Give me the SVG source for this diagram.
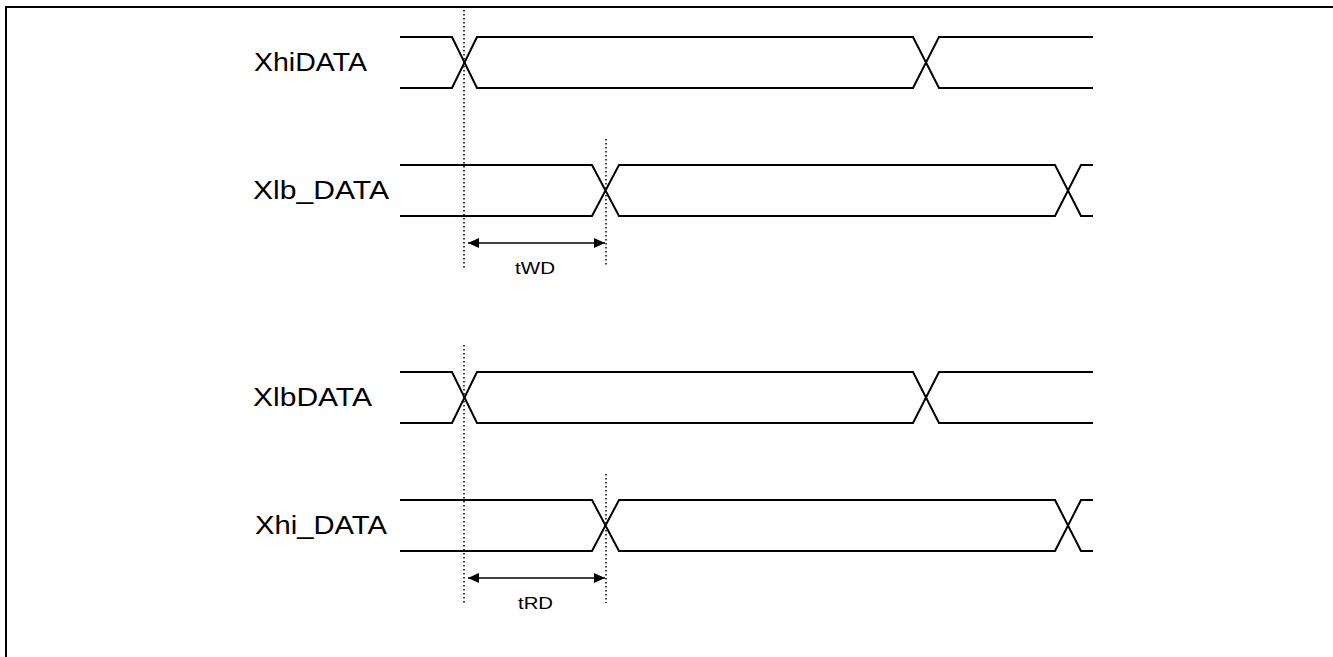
<svg xmlns="http://www.w3.org/2000/svg" width="1333" height="657" viewBox="0 0 1333 657">
<style>
.sig{fill:none;stroke:#000;stroke-width:2;stroke-linejoin:miter}
.dot{fill:none;stroke:#000;stroke-width:1.5;stroke-dasharray:1.5 2.5}
.dim{fill:none;stroke:#000;stroke-width:1.5}
.lbl{font-family:"Liberation Sans",Arial,sans-serif;font-size:26px;fill:#000}
.tl{font-family:"Liberation Sans",Arial,sans-serif;font-size:17px;fill:#000}
</style>
<defs>
<marker id="ah" viewBox="0 0 11 10" refX="11" refY="5" markerWidth="11" markerHeight="10" markerUnits="userSpaceOnUse" orient="auto-start-reverse">
<path d="M0,0 L11,5 L0,10 Z" fill="#000"/>
</marker>
</defs>
<rect width="1333" height="657" fill="#fff"/>
<path d="M6,657 V7 H1333" fill="none" stroke="#000" stroke-width="2"/>
<g id="XhiDATA">
<text class="lbl" x="254" y="71" textLength="113" lengthAdjust="spacingAndGlyphs">XhiDATA</text>
<path class="sig" d="M400,37 H452 L477,88 H913 L939,37 H1093"/>
<path class="sig" d="M400,88 H452 L477,37 H913 L939,88 H1093"/>
</g>
<g id="Xlb_DATA">
<text class="lbl" x="253" y="199" textLength="136" lengthAdjust="spacingAndGlyphs">Xlb_DATA</text>
<path class="sig" d="M400,165 H592 L619,216 H1055 L1081,165 H1093"/>
<path class="sig" d="M400,216 H592 L619,165 H1055 L1081,216 H1093"/>
</g>
<g id="XlbDATA">
<text class="lbl" x="253" y="406" textLength="119" lengthAdjust="spacingAndGlyphs">XlbDATA</text>
<path class="sig" d="M400,372 H452 L477,423 H913 L939,372 H1093"/>
<path class="sig" d="M400,423 H452 L477,372 H913 L939,423 H1093"/>
</g>
<g id="Xhi_DATA">
<text class="lbl" x="255" y="534" textLength="132" lengthAdjust="spacingAndGlyphs">Xhi_DATA</text>
<path class="sig" d="M400,500 H592 L619,551 H1055 L1081,500 H1093"/>
<path class="sig" d="M400,551 H592 L619,500 H1055 L1081,551 H1093"/>
</g>
<g id="tWD">
<text class="tl" x="515" y="274" textLength="40" lengthAdjust="spacingAndGlyphs">tWD</text>
</g>
<g id="tRD">
<text class="tl" x="518" y="609" textLength="35" lengthAdjust="spacingAndGlyphs">tRD</text>
</g>
<g id="connectors">
<line class="dot" x1="464" y1="10" x2="464" y2="268"/>
<line class="dot" x1="606" y1="139" x2="606" y2="265"/>
<line class="dot" x1="464" y1="345" x2="464" y2="605"/>
<line class="dot" x1="606" y1="474" x2="606" y2="603"/>
<line class="dim" x1="468" y1="243" x2="605" y2="243" marker-start="url(#ah)" marker-end="url(#ah)"/>
<line class="dim" x1="468" y1="578" x2="605" y2="578" marker-start="url(#ah)" marker-end="url(#ah)"/>
</g>
</svg>
